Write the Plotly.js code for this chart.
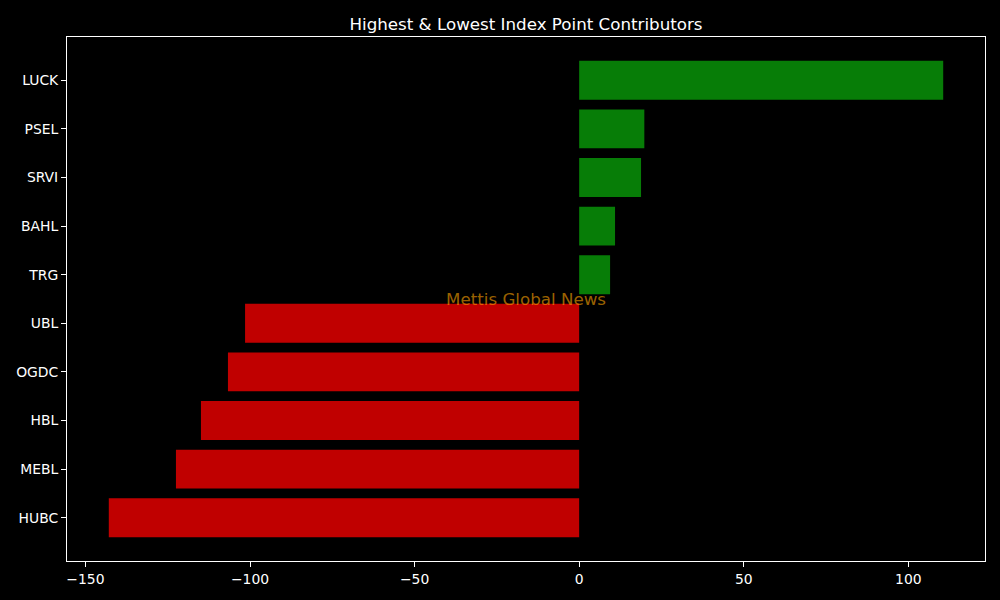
<!DOCTYPE html>
<html>
<head>
<meta charset="utf-8">
<script src="https://cdn.plot.ly/plotly-3.0.1.min.js"></script>
<style>html,body{margin:0;padding:0;background:#000;}#chart{width:1000px;height:600px;}</style>
</head>
<body>
<div id="chart"></div>
<script>
// Categories listed bottom-to-top (Plotly draws first category at the bottom)
var stocks = ["HUBC", "MEBL", "HBL", "OGDC", "UBL", "TRG", "BAHL", "SRVI", "PSEL", "LUCK"];
var points = [-142.9, -122.5, -114.9, -106.7, -101.5, 9.4, 10.9, 18.8, 19.8, 110.6];
var xTicks = [-150, -100, -50, 0, 50, 100];

var colors = points.map(function (v) { return v >= 0 ? "#077d07" : "#c00000"; });

var trace = {
  type: "bar",
  orientation: "h",
  x: points,
  y: stocks,
  width: 0.8,
  marker: { color: colors, line: { width: 0 } },
  hoverinfo: "x+y"
};

var font = { family: "DejaVu Sans", size: 13.9, color: "#ffffff" };

var layout = {
  width: 1000,
  height: 600,
  paper_bgcolor: "#000000",
  plot_bgcolor: "#000000",
  margin: { l: 67, r: 15, t: 37, b: 39 },
  font: font,
  showlegend: false,
  title: {
    text: "Highest &amp; Lowest Index Point Contributors",
    font: { family: "DejaVu Sans", size: 16.7, color: "#ffffff" },
    x: 0.526, xanchor: "center", y: 0.96, yanchor: "middle"
  },
  xaxis: {
    range: [-155.6, 123.3],
    tickvals: xTicks,
    ticks: "outside", ticklen: 5, tickwidth: 1, tickcolor: "#ffffff",
    showline: true, linecolor: "#ffffff", linewidth: 1, mirror: true,
    showgrid: false, zeroline: false,
    tickfont: font
  },
  yaxis: {
    type: "category",
    range: [-0.89, 9.89],
    ticks: "outside", ticklen: 5, tickwidth: 1, tickcolor: "#ffffff",
    showline: true, linecolor: "#ffffff", linewidth: 1, mirror: true,
    showgrid: false, zeroline: false,
    tickfont: font
  },
  annotations: [{
    text: "Mettis Global News",
    xref: "paper", yref: "paper", x: 0.5, y: 0.5,
    xanchor: "center", yanchor: "middle",
    showarrow: false,
    font: { family: "DejaVu Sans", size: 16.7, color: "rgba(255,165,0,0.62)" }
  }]
};

Plotly.newPlot("chart", [trace], layout, { displayModeBar: false, staticPlot: true });
</script>
</body>
</html>
